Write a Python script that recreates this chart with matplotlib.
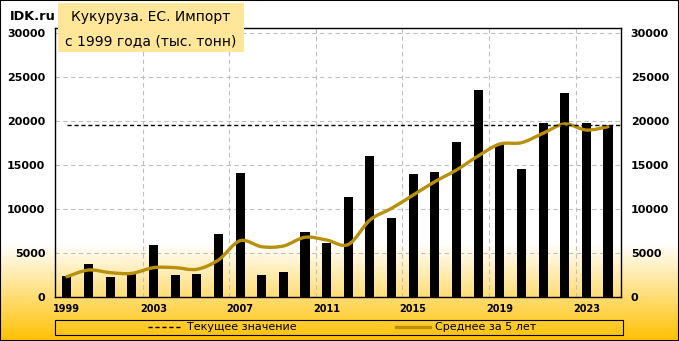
import numpy as np
import matplotlib
matplotlib.use("Agg")
import matplotlib.pyplot as plt
from matplotlib.path import Path
from matplotlib.patches import PathPatch, Rectangle
from matplotlib.lines import Line2D
from matplotlib.colors import to_rgb

years = list(range(1999, 2025))
imports = [2420, 3780, 2300, 2650, 5980, 2530, 2650, 7190, 14130, 2530,
           2875, 7420, 6170, 11400, 16060, 9010, 14010, 14240, 17650, 23560,
           17420, 14580, 19810, 23220, 19810, 19580]
avg5 = [2340, 3100, 2800, 2720, 3370, 3370, 3180, 4240, 6430, 5750,
        5830, 6820, 6510, 6000, 8780, 10110, 11620, 13140, 14470, 16060,
        17420, 17570, 18640, 19700, 19010, 19390]
current = 19580
label_years = [1999, 2003, 2007, 2011, 2015, 2019, 2023]
title1 = "Кукуруза. ЕС. Импорт"
title2 = "с 1999 года (тыс. тонн)"

W, H = 679, 341
fig = plt.figure(figsize=(W / 100, H / 100), dpi=100)

# background gradient (white -> amber at the bottom)
bg = fig.add_axes([0, 0, 1, 1], zorder=-10)
bg.axis("off")
rows = np.arange(H)
t = np.clip((rows - 243) / (H - 243), 0, 1)
white = np.array([1.0, 1.0, 1.0])
amber = np.array(to_rgb("#FFC000"))
grad = white[None, :] * (1 - t[:, None]) + amber[None, :] * t[:, None]
img = np.repeat(grad[:, None, :], 2, axis=1)
bg.imshow(img, aspect="auto", extent=[0, 1, 0, 1], origin="upper")
bg.set_xlim(0, 1)
bg.set_ylim(0, 1)

ax = fig.add_axes([55 / W, 1 - 297.3 / H, (621 - 55) / W, (297.3 - 27.7) / H])
ax.set_facecolor("none")

ax.bar(years, imports, width=0.42, color="black", zorder=3)

# smoothed 5-year average (bezier through the points, like excel smoothing)
x = np.array(years, dtype=float)
y = np.array(avg5, dtype=float)
verts = [(x[0], y[0])]
codes = [Path.MOVETO]
n = len(x)
for i in range(n - 1):
    p0 = (x[max(i - 1, 0)], y[max(i - 1, 0)])
    p1 = (x[i], y[i])
    p2 = (x[i + 1], y[i + 1])
    p3 = (x[min(i + 2, n - 1)], y[min(i + 2, n - 1)])
    c1 = (p1[0] + (p2[0] - p0[0]) / 6, p1[1] + (p2[1] - p0[1]) / 6)
    c2 = (p2[0] - (p3[0] - p1[0]) / 6, p2[1] - (p3[1] - p1[1]) / 6)
    verts += [c1, c2, p2]
    codes += [Path.CURVE4] * 3
gold = "#B8900B"
ax.add_patch(PathPatch(Path(verts, codes), facecolor="none", edgecolor=gold,
                       lw=2.4, zorder=4, capstyle="round"))

ax.hlines(current, years[0], years[-1] + 0.6, colors="black", lw=1,
          linestyles=(0, (3, 2)), zorder=5)

ax.set_xlim(1998.45, 2024.6)
ax.set_ylim(0, 30640)
ax.set_yticks(range(0, 30001, 5000))
ax.set_xticks(label_years)
ax.set_xticks([yr - 0.5 for yr in label_years[1:]], minor=True)
ax.grid(axis="y", which="major", color="#C0C0C0", lw=0.8, ls=(0, (4, 3)), zorder=0)
ax.grid(axis="x", which="minor", color="#C0C0C0", lw=0.8, ls=(0, (4, 3)), zorder=0)
ax.tick_params(axis="y", length=0, labelsize=8, pad=7, labelright=True)
ax.tick_params(axis="x", which="both", length=0, labelsize=7, pad=5)
for lb in ax.get_xticklabels() + ax.yaxis.get_ticklabels() + ax.yaxis.get_majorticklabels():
    lb.set_fontweight("bold")
for s in ax.spines.values():
    s.set_color("black")
    s.set_linewidth(1)

# title block
fig.patches.append(Rectangle((58 / W, 1 - 52 / H), (244 - 58) / W, 49 / H,
                             transform=fig.transFigure, facecolor="#FFE699",
                             edgecolor="none", zorder=5))
fig.text(151 / W, 1 - 17.5 / H, title1, ha="center", va="center", fontsize=10, zorder=6)
fig.text(151 / W, 1 - 41.5 / H, title2, ha="center", va="center", fontsize=10, zorder=6)
fig.text(10 / W, 1 - 16 / H, "IDK.ru", ha="left", va="center", fontsize=9.3,
         fontweight="bold", zorder=6)

# legend
handles = [Line2D([], [], color="black", lw=1, ls=(0, (3, 2))),
           Line2D([], [], color=gold, lw=2.4)]
fig.legend(handles, ["Текущее значение", "Среднее за 5 лет"], ncol=2,
           loc="center", bbox_to_anchor=(342 / W, 1 - 327.5 / H), frameon=False,
           fontsize=8, handlelength=3, handletextpad=0.5, columnspacing=9,
           borderpad=0, borderaxespad=0)
fig.patches.append(Rectangle((55 / W, 1 - 335 / H), (623 - 55) / W, 15 / H,
                             transform=fig.transFigure, facecolor="none",
                             edgecolor="black", lw=0.8))
fig.patches.append(Rectangle((0, 0), 1, 1, transform=fig.transFigure,
                             facecolor="none", edgecolor="black", lw=1.5))

fig.savefig("out.png", dpi=100)
